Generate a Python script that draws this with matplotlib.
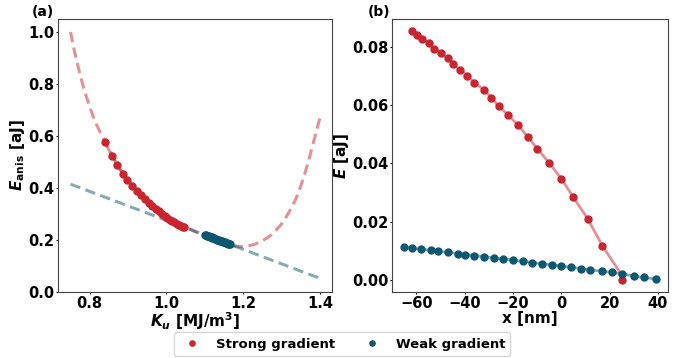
import matplotlib.pyplot as plt

plt.rcParams["font.family"] = ["DejaVu Sans"]
plt.rcParams["font.weight"] = "bold"
plt.rcParams["axes.labelweight"] = "bold"
plt.rcParams["font.size"] = 11
plt.rcParams["xtick.labelsize"] = 10.5
plt.rcParams["ytick.labelsize"] = 10.5

RED = "#c8252f"
BLUE = "#0b5772"

# (a) anisotropy energy vs K_u
ku_strong = [0.839, 0.858, 0.872, 0.886, 0.898, 0.910, 0.922, 0.933, 0.944, 0.954,
             0.963, 0.972, 0.980, 0.988, 0.995, 1.002, 1.009, 1.015, 1.021, 1.027,
             1.032, 1.037, 1.042, 1.047]
e_anis_strong = [0.577, 0.525, 0.488, 0.456, 0.431, 0.409, 0.390, 0.372, 0.357, 0.343,
                 0.331, 0.320, 0.310, 0.301, 0.293, 0.286, 0.279, 0.273, 0.268, 0.263,
                 0.259, 0.255, 0.252, 0.249]

ku_weak = [1.100, 1.1025, 1.105, 1.1075, 1.110, 1.1125, 1.115, 1.1175, 1.120,
           1.1225, 1.125, 1.1275, 1.130, 1.1325, 1.135, 1.1375, 1.140, 1.1425,
           1.145, 1.1475, 1.150, 1.1525, 1.155, 1.1575, 1.160, 1.1625, 1.165]
e_anis_weak = [0.2201, 0.2187, 0.2173, 0.2159, 0.2145, 0.2131, 0.2117, 0.2103, 0.2089,
               0.2075, 0.2062, 0.2048, 0.2034, 0.2020, 0.2006, 0.1992, 0.1978, 0.1964,
               0.1950, 0.1936, 0.1923, 0.1909, 0.1895, 0.1881, 0.1867, 0.1853, 0.1839]

ku_curve = [0.75, 0.76, 0.77, 0.78, 0.79, 0.80, 0.81, 0.82, 0.83, 0.84, 0.86, 0.88,
            0.90, 0.925, 0.95, 0.975, 1.00, 1.025, 1.05, 1.075, 1.10, 1.125, 1.15,
            1.17, 1.19, 1.21, 1.23, 1.25, 1.27, 1.285, 1.30, 1.315, 1.33, 1.34,
            1.35, 1.36, 1.37, 1.38, 1.39, 1.40]
e_curve = [1.000, 0.928, 0.865, 0.808, 0.757, 0.712, 0.672, 0.637, 0.605, 0.577,
           0.522, 0.470, 0.431, 0.385, 0.350, 0.318, 0.292, 0.269, 0.249, 0.232,
           0.216, 0.201, 0.189, 0.180, 0.175, 0.176, 0.184, 0.197, 0.216, 0.237,
           0.262, 0.296, 0.335, 0.368, 0.407, 0.452, 0.503, 0.558, 0.614, 0.670]

ku_line = [0.75, 1.40]
e_line = [0.415, 0.053]

# (b) energy profile along x
x_strong = [-62, -59.6, -57.5, -55, -52.7, -49.7, -47, -44.7, -42, -39, -36, -32,
            -29, -26, -22, -18, -14, -10, -5, 0, 5, 11, 17, 25]
e_strong = [0.0854, 0.0841, 0.0828, 0.0813, 0.0795, 0.0779, 0.0761, 0.0743, 0.0722,
            0.0701, 0.0678, 0.0653, 0.0626, 0.0597, 0.0566, 0.0532, 0.0492, 0.0451,
            0.0401, 0.0347, 0.0283, 0.0208, 0.0116, 0.0]
x_strong_line_end = 24.5
e_strong_line_end = 0.0022

x_weak = [-65, -62, -58, -54, -51, -47, -43, -40, -36, -32, -28, -24, -20, -16,
          -12, -8, -4, 0, 4, 8, 12, 17, 21, 25, 30, 34, 39]
e_weak = [0.0112, 0.0108, 0.0105, 0.0101, 0.0098, 0.0094, 0.0090, 0.0086, 0.0083,
          0.0079, 0.0075, 0.0071, 0.0068, 0.0063, 0.0059, 0.0055, 0.0051, 0.0047,
          0.0043, 0.0038, 0.0034, 0.0029, 0.0025, 0.0020, 0.0013, 0.0008, 0.0002]

fig = plt.figure(figsize=(6.91, 3.58), dpi=100)
ax_a = fig.add_axes([0.084, 0.184, 0.397, 0.763])
ax_b = fig.add_axes([0.567, 0.184, 0.400, 0.763])

dash = (3.4, 1.8)
ax_a.plot(ku_curve, e_curve, "--", color=RED, alpha=0.5, lw=2.2, dashes=dash)
ax_a.plot(ku_line, e_line, "--", color=BLUE, alpha=0.5, lw=2.2, dashes=dash)
ax_a.plot(ku_strong, e_anis_strong, "-", color=RED, alpha=0.5, lw=2)
ax_a.plot(ku_weak, e_anis_weak, "-", color=BLUE, alpha=0.5, lw=2)
ax_a.plot(ku_strong, e_anis_strong, "o", color=RED, ms=5, ls="none")
ax_a.plot(ku_weak, e_anis_weak, "o", color=BLUE, ms=5, ls="none")
ax_a.set_ylim(0, 1.05)
ax_a.set_xticks([0.8, 1.0, 1.2, 1.4])
ax_a.set_yticks([0.0, 0.2, 0.4, 0.6, 0.8, 1.0])
ax_a.set_xlabel(r"$\mathbfit{K}_{\mathbfit{u}}$ [MJ/m$^{\mathbf{3}}$]", labelpad=0)
ax_a.set_ylabel(r"$\mathbfit{E}_{\mathbf{anis}}$ [aJ]", labelpad=1)

ax_b.plot(x_strong[:-1] + [x_strong_line_end], e_strong[:-1] + [e_strong_line_end],
          "-", color=RED, alpha=0.5, lw=2)
ax_b.plot(x_weak, e_weak, "-", color=BLUE, alpha=0.5, lw=2)
ax_b.plot(x_strong, e_strong, "o", color=RED, ms=5, ls="none", label="Strong gradient")
ax_b.plot(x_weak, e_weak, "o", color=BLUE, ms=5, ls="none", label="Weak gradient")
ax_b.set_xticks([-60, -40, -20, 0, 20, 40])
ax_b.set_yticks([0.0, 0.02, 0.04, 0.06, 0.08])
ax_b.set_xlabel("x [nm]", labelpad=0)
ax_b.set_ylabel(r"$\mathbfit{E}$ [aJ]", labelpad=1)

for ax in (ax_a, ax_b):
    for sp in ax.spines.values():
        sp.set_color("#444444")
    ax.tick_params(length=1.5, width=0.8, pad=1)

fig.text(0.046, 0.985, "(a)", fontsize=10, fontweight="bold", va="top")
fig.text(0.532, 0.985, "(b)", fontsize=10, fontweight="bold", va="top")

fig.legend(loc="lower center", bbox_to_anchor=(0.495, 0.0), ncol=2, frameon=True,
           columnspacing=1.8, markerscale=0.75, borderaxespad=0.15,
           prop={"weight": "bold", "size": 9.5})

fig.savefig("out.png", dpi=100)
